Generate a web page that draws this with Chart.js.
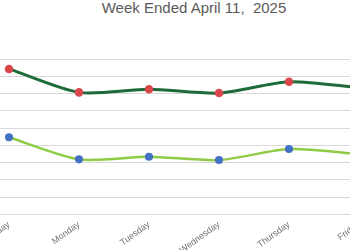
<!DOCTYPE html>
<html>
<head>
<meta charset="utf-8">
<script src="https://cdn.jsdelivr.net/npm/chart.js@4/dist/chart.umd.min.js"></script>
<style>
  html, body { margin: 0; padding: 0; overflow: hidden; background: #fff; }
  #title {
    position: absolute; left: 0; top: 0; width: 388px; text-align: center;
    font: 15px/15px "Liberation Sans", Arial, sans-serif; color: #5a5a5a;
    white-space: pre;
  }
  #wrap { position: absolute; left: -45.7px; top: 0; width: 450px; height: 250px; }
</style>
</head>
<body>
<div id="title">Week Ended April 11,  2025</div>
<div id="wrap"><canvas id="chart" width="450" height="250"></canvas></div>
<script>
// values (arbitrary units, one gridline = 1)
const days = ["Sunday", "Monday", "Tuesday", "Wednesday", "Thursday", "Friday"]
const upperSeries = [8.44, 7.08, 7.26, 7.04, 7.70, 7.36]
const lowerSeries = [4.47, 3.19, 3.34, 3.15, 3.79, 3.50]
const yMin = 0
const yMax = 9
const yStep = 1

const ctx = document.getElementById("chart").getContext("2d")

new Chart(ctx, {
  type: "line",
  data: {
    labels: days,
    datasets: [
      {
        label: "Upper",
        data: upperSeries,
        borderColor: "#1d6b38",
        borderWidth: 3,
        pointBackgroundColor: "#d9474c",
        pointBorderColor: "#d9474c",
        pointRadius: 2.8,
        tension: 0.25,
      },
      {
        label: "Lower",
        data: lowerSeries,
        borderColor: "#8fcb44",
        borderWidth: 2.5,
        pointBackgroundColor: "#4472c4",
        pointBorderColor: "#4472c4",
        pointRadius: 2.8,
        tension: 0.25,
      },
    ],
  },
  options: {
    responsive: false,
    animation: false,
    layout: { padding: { left: 20, right: 10, top: 59.3, bottom: 0 } },
    plugins: {
      legend: { display: false },
      title: { display: false },
      tooltip: { enabled: false },
    },
    scales: {
      x: {
        offset: true,
        grid: { display: false },
        border: { display: false },
        ticks: {
          autoSkip: false,
          minRotation: 36,
          maxRotation: 36,
          padding: -3,
          color: "#707070",
          font: { family: "Liberation Sans", size: 9 },
        },
        afterFit: (s) => {
          s.paddingLeft = 0
          s.paddingRight = 0
          s.height = 35.7
        },
      },
      y: {
        min: yMin,
        max: yMax,
        ticks: { display: false, stepSize: yStep },
        border: { display: false },
        grid: { color: "#d9d9d9", lineWidth: 1, drawTicks: false },
        afterFit: (s) => {
          s.width = 0
          s.paddingTop = 0
          s.paddingBottom = 0
        },
      },
    },
  },
})
</script>
</body>
</html>
